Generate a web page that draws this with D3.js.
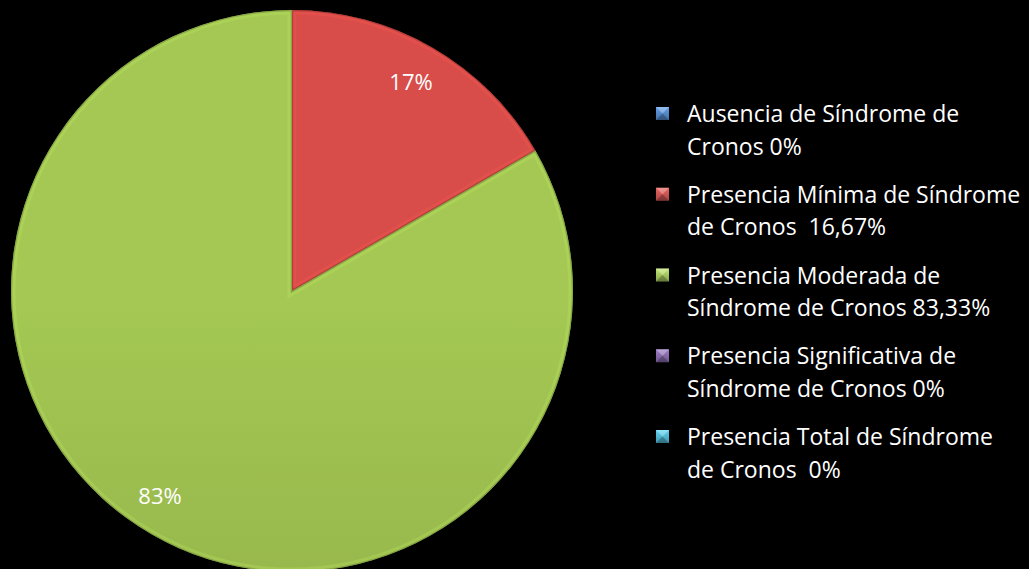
<!DOCTYPE html>
<html>
<head>
<meta charset="utf-8">
<script src="https://cdn.jsdelivr.net/npm/d3@7"></script>
<style>
  html, body { margin: 0; padding: 0; background: #000; }
  svg { display: block; }
  text { font-family: "Open Sans", Lato, sans-serif; white-space: pre; }
</style>
</head>
<body>
<svg id="chart" width="1029" height="569"></svg>
<script>
// Category names as shown in the legend (two lines each)
const legendLines = [
  ["Ausencia de Síndrome de", "Cronos 0%"],
  ["Presencia Mínima de Síndrome", "de Cronos  16,67%"],
  ["Presencia Moderada de", "Síndrome de Cronos 83,33%"],
  ["Presencia Significativa de", "Síndrome de Cronos 0%"],
  ["Presencia Total de Síndrome", "de Cronos  0%"]
];
const categories = ["Ausencia", "Mínima", "Moderada", "Significativa", "Total"];
const values = [0, 16.67, 83.33, 0, 0];
const sliceLabels = ["", "17%", "83%", "", ""];
const baseColors = ["#4f81bd", "#c0504d", "#9bbb59", "#8064a2", "#4bacc6"];
const topColors = ["#5689c8", "#d84c49", "#a4c853", "#8a6db0", "#52b6d0"];
const bottomColors = ["#426fa6", "#b73a3a", "#8ba846", "#6d5392", "#3f98b0"];

const svg = d3.select("#chart");
const defs = svg.append("defs");

const cx = 292, cy = 291, R = 281;

// Vertical gradient per series for the shaded slice look
categories.forEach((c, i) => {
  const g = defs.append("linearGradient")
    .attr("id", "grad" + i)
    .attr("gradientUnits", "userSpaceOnUse")
    .attr("x1", 0).attr("y1", cy - R).attr("x2", 0).attr("y2", cy + R);
  g.append("stop").attr("offset", "0%").attr("stop-color", topColors[i]);
  g.append("stop").attr("offset", "100%").attr("stop-color", bottomColors[i]);

  const lg = defs.append("linearGradient")
    .attr("id", "lgrad" + i)
    .attr("x1", 0).attr("y1", 0).attr("x2", 0).attr("y2", 1);
  lg.append("stop").attr("offset", "0%").attr("stop-color", d3.color(baseColors[i]).brighter(0.6));
  lg.append("stop").attr("offset", "100%").attr("stop-color", d3.color(baseColors[i]).darker(0.4));
});

const pie = d3.pie().sort(null).value(d => d.value);
const data = categories.map((c, i) => ({ name: c, value: values[i], idx: i }));
const arcs = pie(data).filter(d => d.data.value > 0);

const arc = d3.arc().innerRadius(0).outerRadius(R);
const labelArc = d3.arc().innerRadius(R * 0.78).outerRadius(R * 0.78);

const g = svg.append("g").attr("transform", `translate(${cx},${cy})`);

// Clip paths so the bevel strokes stay inside each slice
arcs.forEach(d => {
  defs.append("clipPath").attr("id", "clip" + d.data.idx)
    .append("path").attr("d", arc(d));
});

const slice = g.selectAll("g.slice").data(arcs).join("g").attr("class", "slice");

slice.append("path")
  .attr("d", arc)
  .attr("fill", d => `url(#grad${d.data.idx})`);

// Bevel: soft light inner edge then a thin dark rim
slice.append("path")
  .attr("d", arc)
  .attr("clip-path", d => `url(#clip${d.data.idx})`)
  .attr("fill", "none")
  .attr("stroke", d => d3.color(topColors[d.data.idx]).brighter(0.4))
  .attr("stroke-opacity", 0.3)
  .attr("stroke-width", 9)
  .attr("stroke-linejoin", "miter");

slice.append("path")
  .attr("d", arc)
  .attr("clip-path", d => `url(#clip${d.data.idx})`)
  .attr("fill", "none")
  .attr("stroke", d => d3.color(bottomColors[d.data.idx]).darker(0.8))
  .attr("stroke-opacity", 0.5)
  .attr("stroke-width", 2.5);

// Percentage labels
const labelPos = { 1: [411 - cx, 81 - cy], 2: [160 - cx, 495 - cy] };
slice.append("text")
  .attr("x", d => labelPos[d.data.idx] ? labelPos[d.data.idx][0] : labelArc.centroid(d)[0])
  .attr("y", d => labelPos[d.data.idx] ? labelPos[d.data.idx][1] : labelArc.centroid(d)[1])
  .attr("text-anchor", "middle")
  .attr("dominant-baseline", "central")
  .attr("fill", "#ffffff")
  .attr("font-size", 22)
  .text(d => sliceLabels[d.data.idx]);

// Legend
const legendY = d3.scaleLinear().domain([0, 4]).range([113, 436]);
const legend = svg.append("g");
const item = legend.selectAll("g").data(categories).join("g")
  .attr("transform", (d, i) => `translate(656, ${legendY(i)})`);

item.append("rect")
  .attr("x", 0).attr("y", -6).attr("width", 13).attr("height", 13)
  .attr("fill", (d, i) => `url(#lgrad${i})`);
// Pyramid shading on the markers
item.append("path")
  .attr("d", "M0,-6 L13,-6 L6.5,0.5 Z")
  .attr("fill", "#ffffff").attr("fill-opacity", 0.3);
item.append("path")
  .attr("d", "M0,7 L13,7 L6.5,0.5 Z")
  .attr("fill", "#000000").attr("fill-opacity", 0.25);

item.append("text")
  .attr("fill", "#ffffff")
  .attr("font-size", 23)
  .selectAll("tspan")
  .data((d, i) => legendLines[i])
  .join("tspan")
  .attr("x", 31)
  .attr("y", (d, j) => j * 32.5)
  .attr("dominant-baseline", "central")
  .text(d => d);
</script>
</body>
</html>
